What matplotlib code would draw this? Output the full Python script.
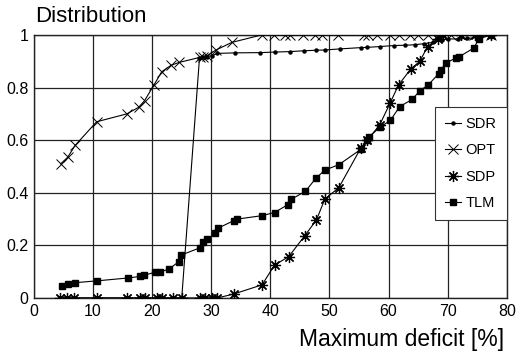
import matplotlib
matplotlib.use("Agg")
import matplotlib.pyplot as plt
from matplotlib.ticker import FuncFormatter

plt.rcParams['font.family'] = ['Liberation Sans', 'DejaVu Sans']

# ---- data ----
sdr_x = [4.4, 5.5, 6.7, 10.6, 15.7, 18.8, 21.6, 23.6, 25.0, 28.0, 28.6, 29.3, 30.2, 31.0, 34.0,
         38.3, 40.7, 43.4, 45.7, 47.7, 49.2, 51.7, 55.3, 56.4, 58.5, 61.0, 62.8, 64.5, 66.0,
         67.5, 69.0, 70.0, 71.8, 73.3, 75.0, 77.3]
sdr_y = [0, 0, 0, 0, 0, 0, 0, 0, 0, 0.912, 0.915, 0.918, 0.922, 0.930, 0.932,
         0.933, 0.935, 0.937, 0.940, 0.942, 0.943, 0.947, 0.952, 0.953, 0.956, 0.960, 0.961,
         0.963, 0.967, 0.972, 0.980, 0.985, 0.985, 0.987, 0.990, 1.0]

opt_x = [4.5, 5.7, 6.95, 10.6, 15.7, 17.7, 18.7, 20.3, 21.6, 23.2, 24.6, 28.1, 28.6, 29.2,
         30.8, 33.5, 38.5, 40.6, 42.5, 43.3, 45.6, 47.5, 48.8, 51.5, 55.8, 56.6, 58.0, 60.3,
         61.7, 63.7, 64.9, 66.6, 68.3, 69.1, 70.5, 72.2, 74.4, 77.3]
opt_y = [0.51, 0.535, 0.58, 0.67, 0.70, 0.725, 0.75, 0.81, 0.86, 0.885, 0.896, 0.915, 0.918,
         0.92, 0.943, 0.972, 1, 1, 1, 1, 1, 1, 1, 1, 1, 1, 1, 1, 1, 1, 1, 1, 1, 1, 1, 1, 1, 1]

sdp_x = [4.4, 5.5, 6.7, 10.6, 15.7, 18.0, 18.8, 20.8, 21.6, 23.6, 25.0, 28.1, 29.0, 30.1, 31.0,
         33.8, 38.6, 40.7, 43.1, 45.8, 47.8, 49.2, 51.6, 55.3, 56.4, 58.5, 60.3, 61.7, 63.8,
         65.3, 66.6, 68.3, 69.2, 72.2, 74.7, 77.3]
sdp_y = [0] * 15 + [0.015, 0.05, 0.125, 0.157, 0.236, 0.297, 0.375, 0.42, 0.57, 0.60, 0.658,
                    0.743, 0.81, 0.872, 0.90, 0.956, 0.985, 1, 1, 1, 1]

tlm_x = [4.7, 5.8, 6.9, 10.6, 15.9, 18.0, 18.6, 20.5, 21.4, 22.8, 24.5, 24.9, 28.1, 28.6, 29.3,
         30.7, 31.1, 33.8, 34.4, 38.6, 40.7, 42.9, 43.5, 45.9, 47.7, 49.2, 51.6, 55.3, 56.4,
         56.7, 58.6, 60.3, 61.9, 64.0, 65.3, 66.7, 68.5, 68.8, 69.8, 71.4, 72.0, 74.4, 75.3, 77.3]
tlm_y = [0.046, 0.052, 0.058, 0.065, 0.076, 0.082, 0.086, 0.098, 0.1, 0.109, 0.138, 0.163,
         0.191, 0.214, 0.223, 0.246, 0.265, 0.294, 0.3, 0.313, 0.325, 0.354, 0.375, 0.405,
         0.455, 0.486, 0.507, 0.565, 0.60, 0.613, 0.65, 0.675, 0.728, 0.755, 0.788, 0.81,
         0.853, 0.867, 0.895, 0.912, 0.918, 0.95, 0.985, 1.0]

x_ticks = [0, 10, 20, 30, 40, 50, 60, 70, 80]
y_ticks = [0, 0.2, 0.4, 0.6, 0.8, 1.0]

# ---- figure ----
fig = plt.figure(figsize=(5.21, 3.56), dpi=100)
ax = fig.add_axes([0.0653, 0.163, 0.9073, 0.7387])

lw = 0.8
ax.plot(sdr_x, sdr_y, color='black', lw=lw, marker='o', ms=2.2, label='SDR', zorder=3)
ax.plot(opt_x, opt_y, color='black', lw=lw, marker='x', ms=7, mew=0.7, label='OPT', zorder=3)
ax.plot(sdp_x, sdp_y, color='black', lw=lw, marker=(8, 2, 0), ms=8, mew=0.9, label='SDP', zorder=4)
ax.plot(tlm_x, tlm_y, color='black', lw=lw, marker='s', ms=5, label='TLM', zorder=4)

ax.set_xlim(0, 80)
ax.set_ylim(0, 1)
ax.set_xticks(x_ticks)
ax.set_yticks(y_ticks)
ax.yaxis.set_major_formatter(FuncFormatter(lambda v, p: f"{v:g}"))
ax.tick_params(length=0, labelsize=11.5, pad=4, colors='black')
ax.grid(True, color='#222222', lw=0.9)
for s in ax.spines.values():
    s.set_color('#222222')
    s.set_linewidth(1.0)

leg = ax.legend(loc='upper right', bbox_to_anchor=(1.0, 0.727), borderaxespad=0,
                fontsize=10.5, frameon=True, fancybox=False, framealpha=1,
                edgecolor='#333333', handlelength=1.1, handletextpad=0.3,
                labelspacing=0.85, borderpad=0.7)
leg.get_frame().set_linewidth(0.8)

fig.text(35 / 521, 1 - 22 / 356, 'Distribution', fontsize=16, ha='left', va='baseline')
fig.text(504 / 521, 1 - 346 / 356, 'Maximum deficit [%]', fontsize=16.5, ha='right', va='baseline')

fig.savefig('out.png', dpi=100)
